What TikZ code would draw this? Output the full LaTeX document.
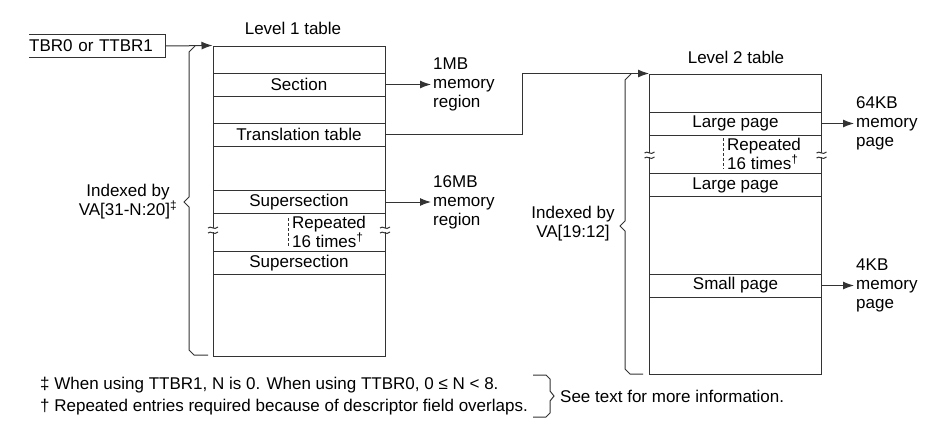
\documentclass[tikz,border=0pt]{standalone}
\usepackage{fontspec}
\setmainfont{Liberation Sans}
\usetikzlibrary{arrows.meta,positioning}

% break mark across a table border
\newcommand\breakmark[2]{%
  \fill[white] (#1-6,#2-2) rectangle (#1+6,#2+2);
  \draw[wire] (#1-5,#2-2) .. controls (#1-2,#2-5) and (#1+1,#2+1) .. (#1+5,#2-3);
  \draw[wire] (#1-5,#2+3) .. controls (#1-2,#2) and (#1+1,#2+6) .. (#1+5,#2+2);
}

\begin{document}
\begin{tikzpicture}[
  x=1pt,y=-1pt,
  font=\fontsize{17}{19}\selectfont,
  wire/.style={line width=1pt,draw=black!80},
  ptr/.style={wire,-{Latex[length=11pt,width=8pt]}},
  tablebox/.style={wire,minimum width=172pt,inner sep=0pt},
  entry/.style={wire,minimum width=172pt,minimum height=23pt,inner sep=0pt},
  target/.style={align=left,inner sep=0pt,anchor=west},
  note/.style={align=left,inner sep=0pt,anchor=west}
]
  \useasboundingbox (0,0) rectangle (929,423);

  % register
  \node[note,text width=136pt,minimum height=23pt] (tbr) at (29,46) {TBR0 or TTBR1};
  \draw[wire] (tbr.north west) -- (tbr.north east) -- (tbr.south east) -- (tbr.south west);

  % level 1 table
  \node[tablebox,minimum height=310pt] (lvl1) at (299,201) {};
  \node (lvl1title) at (293,28) {Level 1 table};
  \node[entry] (section) at (299,84.5) {Section};
  \node[entry] (trans) at (299,134.5) {Translation table};
  \node[entry] (supera) at (299,202) {Supersection};
  \node[entry] (superb) at (299,263) {Supersection};
  \node[note] (rep1) at (292,232) {Repeated\\16 times\textsuperscript{†}};
  \draw[wire,dash pattern=on 3pt off 2pt] (288,218) -- (288,246);
  \breakmark{213}{230}
  \breakmark{385}{230}

  % level 2 table
  \node[tablebox,minimum height=300pt] (lvl2) at (735.5,224) {};
  \node (lvl2title) at (736,57) {Level 2 table};
  \node[entry] (largea) at (735.5,123.5) {Large page};
  \node[entry] (largeb) at (735.5,185) {Large page};
  \node[entry] (small) at (735.5,285.5) {Small page};
  \node[note] (rep2) at (727,154) {Repeated\\16 times\textsuperscript{†}};
  \draw[wire,dash pattern=on 3pt off 2pt] (723,138) -- (723,169);
  \breakmark{649.5}{155}
  \breakmark{821.5}{155}

  % targets
  \node[target] (mb1) at (433,84.5) {1MB\\memory\\region};
  \node[target] (mb16) at (433,202) {16MB\\memory\\region};
  \node[target] (kb64) at (856,123.5) {64KB\\memory\\page};
  \node[target] (kb4) at (856,285.5) {4KB\\memory\\page};

  % index braces
  \node[align=center] (idx1) at (128,202) {Indexed by\\VA[31-N:20]\textsuperscript{‡}};
  \node[align=center] (idx2) at (573,224) {Indexed by\\VA[19:12]};
  \draw[wire] (195,46) -- (189,52) -- (189,197) -- (184,202) -- (189,207)
    -- (189,350) -- (194,355) -- (208,355);
  \draw[wire] (631,74) -- (625,80) -- (625,221) -- (620,226) -- (625,231)
    -- (625,369) -- (630,374) -- (643,374);

  % connectors
  \draw[ptr] (tbr.east) -- (lvl1.north west);
  \draw[ptr,shorten >=2pt] (section.east) -- (section.east -| mb1.west);
  \draw[ptr,shorten >=2pt] (supera.east) -- (supera.east -| mb16.west);
  \draw[ptr,shorten >=2pt] (largea.east) -- (largea.east -| kb64.west);
  \draw[ptr,shorten >=2pt] (small.east) -- (small.east -| kb4.west);
  \draw[ptr] (trans.east) -- ++(137,0) |- (lvl2.north west);

  % footnotes
  \node[note,font=\fontsize{17}{22}\selectfont] (fn) at (40,396)
    {‡ When using TTBR1, N is 0. When using TTBR0, 0 ≤ N < 8.\\
     † Repeated entries required because of descriptor field overlaps.};
  \draw[wire] (533,375) -- (546,375) -- (550,379) -- (550,391) -- (554,396)
    -- (550,401) -- (550,413) -- (546,417) -- (533,417);
  \node[note] (seetext) at (560,396) {See text for more information.};
\end{tikzpicture}
\end{document}
